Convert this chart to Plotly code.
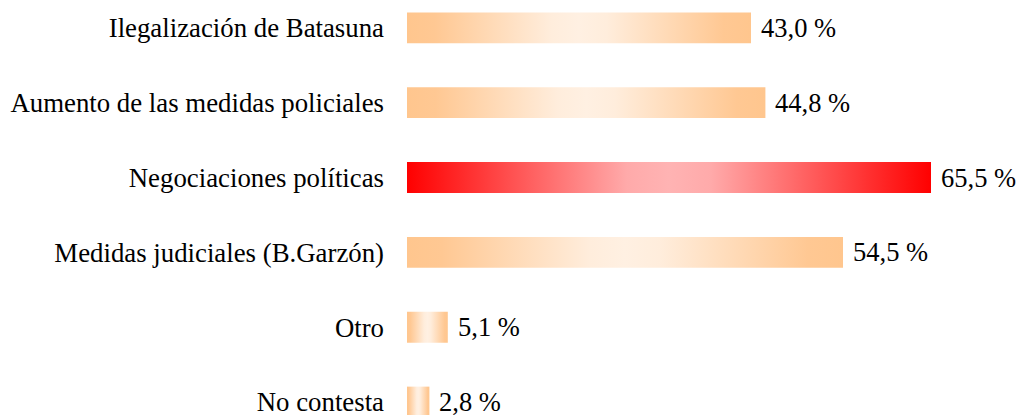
import plotly.graph_objects as go

categories = ["Ilegalización de Batasuna", "Aumento de las medidas policiales",
              "Negociaciones políticas", "Medidas judiciales (B.Garzón)",
              "Otro", "No contesta"]
values = [43.0, 44.8, 65.5, 54.5, 5.1, 2.8]
labels = ["43,0 %", "44,8 %", "65,5 %", "54,5 %", "5,1 %", "2,8 %"]
highlight = [False, False, True, False, False, False]

orange_scale = [[0, "#FFC68E"], [0.08, "#FFC893"], [0.42, "#FFEDDC"], [0.5, "#FFF0E2"],
                [0.58, "#FFEDDC"], [0.92, "#FFC893"], [1, "#FFC68E"]]
red_scale = [[0, "#FF0000"], [0.42, "#FFAAAA"], [0.5, "#FFB3B3"],
             [0.58, "#FFAAAA"], [1, "#FF0000"]]

FONT = "Liberation Serif"
half = 0.206

fig = go.Figure()
for i, (c, v, lab, hl) in enumerate(zip(categories, values, labels, highlight)):
    fig.add_trace(go.Scatter(
        x=[0, v, v, 0, 0],
        y=[i - half, i - half, i + half, i + half, i - half],
        mode="lines", fill="toself",
        line=dict(width=0),
        fillgradient=dict(type="horizontal", colorscale=red_scale if hl else orange_scale),
        hoverinfo="skip", showlegend=False,
    ))
    fig.add_annotation(x=v, y=i, text=lab, xanchor="left", yanchor="middle",
                       xshift=8, showarrow=False,
                       font=dict(family=FONT, size=26.5, color="#000000"))

fig.update_layout(
    width=1019, height=417,
    margin=dict(l=407, r=0, t=0, b=0),
    paper_bgcolor="white", plot_bgcolor="white",
    xaxis=dict(range=[0, 76.5], visible=False, fixedrange=True),
    yaxis=dict(range=[5.173, -0.372], tickmode="array",
               tickvals=list(range(len(categories))), ticktext=categories,
               showgrid=False, zeroline=False, showline=False, ticks="",
               ticklabelstandoff=22, ticklabeloverflow="allow",
               fixedrange=True,
               tickfont=dict(family=FONT, size=26.8, color="#000000")),
)
fig.write_html(
    "out.html",
    config={"displayModeBar": False, "staticPlot": True},
    post_script=("document.body.style.margin='0';document.body.style.overflow='hidden';"
                 "document.documentElement.style.overflow='hidden';"),
)
